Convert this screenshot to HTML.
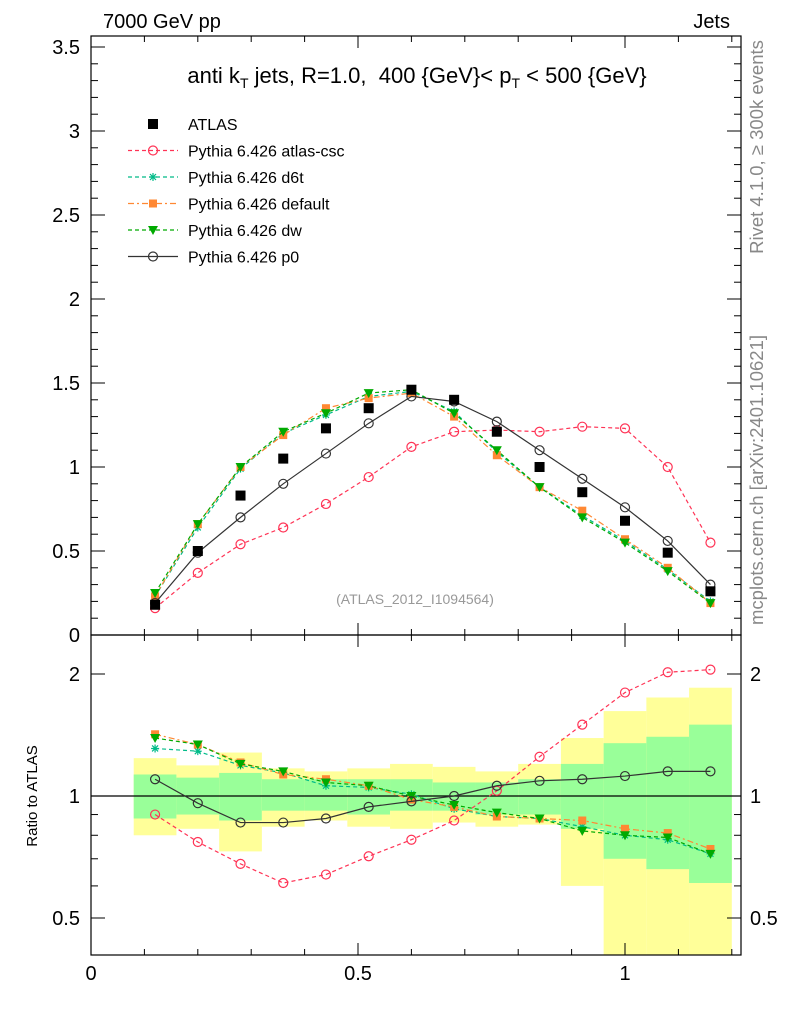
<!DOCTYPE html>
<html><head><meta charset="utf-8"><style>
body{margin:0;background:#fff;}
svg{display:block;font-family:"Liberation Sans",sans-serif;}
</style></head><body>
<svg id="chart" width="786" height="1024" viewBox="0 0 786 1024" xmlns="http://www.w3.org/2000/svg">
<text x="103" y="28" font-size="20">7000 GeV pp</text>
<text x="730" y="28" font-size="20" text-anchor="end">Jets</text>
<text transform="translate(763,147) rotate(-90)" font-size="18.5" fill="#888" text-anchor="middle">Rivet 4.1.0, ≥ 300k events</text>
<text transform="translate(763,480) rotate(-90)" font-size="18.5" fill="#888" text-anchor="middle">mcplots.cern.ch [arXiv:2401.10621]</text>
<text x="417" y="83" font-size="22" text-anchor="middle" xml:space="preserve">anti k<tspan font-size="14" dy="5">T</tspan><tspan dy="-5"> jets, R=1.0,  400 {GeV}&lt; p</tspan><tspan font-size="14" dy="5">T</tspan><tspan dy="-5"> &lt; 500 {GeV}</tspan></text>
<text x="415" y="604" font-size="14" fill="#999" text-anchor="middle">(ATLAS_2012_I1094564)</text>
<text transform="translate(37,796) rotate(-90)" font-size="15" text-anchor="middle">Ratio to ATLAS</text>
<g id="bands"></g>
<g id="axes"></g>
<g id="series"></g>
<g id="legend"></g>
</svg>
<script>
const xCenters=[0.12,0.2,0.28,0.36,0.44,0.52,0.6,0.68,0.76,0.84,0.92,1.0,1.08,1.16];
const binHalf=0.04;
const atlasVals=[0.18,0.5,0.83,1.05,1.23,1.35,1.46,1.40,1.21,1.0,0.85,0.68,0.49,0.26];
const cscVals=[0.16,0.37,0.54,0.64,0.78,0.94,1.12,1.21,1.22,1.21,1.24,1.23,1.0,0.55];
const d6tVals=[0.23,0.64,0.99,1.2,1.31,1.42,1.45,1.33,1.09,0.88,0.71,0.56,0.39,0.2];
const defVals=[0.23,0.66,1.0,1.19,1.35,1.41,1.44,1.30,1.07,0.88,0.74,0.57,0.40,0.19];
const dwVals=[0.25,0.66,1.0,1.21,1.32,1.44,1.46,1.32,1.10,0.88,0.70,0.55,0.38,0.19];
const p0Vals=[0.19,0.49,0.70,0.90,1.08,1.26,1.42,1.39,1.27,1.10,0.93,0.76,0.56,0.30];
const cscRatio=[0.90,0.77,0.68,0.61,0.64,0.71,0.78,0.87,1.03,1.25,1.50,1.80,2.02,2.05];
const d6tRatio=[1.31,1.29,1.19,1.14,1.06,1.05,1.01,0.93,0.89,0.88,0.84,0.80,0.78,0.72];
const defRatio=[1.42,1.34,1.21,1.13,1.10,1.06,0.98,0.94,0.89,0.88,0.87,0.83,0.81,0.74];
const dwRatio=[1.39,1.34,1.20,1.15,1.08,1.06,1.0,0.95,0.91,0.88,0.82,0.80,0.79,0.72];
const p0Ratio=[1.10,0.96,0.86,0.86,0.88,0.94,0.97,1.0,1.06,1.09,1.10,1.12,1.15,1.15];
const yellowHi=[1.24,1.19,1.28,1.17,1.15,1.17,1.2,1.18,1.15,1.2,1.39,1.62,1.75,1.85];
const yellowLo=[0.80,0.83,0.73,0.84,0.87,0.84,0.83,0.86,0.84,0.85,0.60,0.35,0.35,0.35];
const greenHi=[1.13,1.11,1.14,1.1,1.1,1.1,1.1,1.08,1.08,1.1,1.2,1.35,1.4,1.5];
const greenLo=[0.88,0.9,0.87,0.92,0.92,0.9,0.92,0.92,0.9,0.9,0.83,0.7,0.66,0.61];
const xTicks=[0,0.5,1];
const yTicks=[0,0.5,1,1.5,2,2.5,3,3.5];
const rTicks=[0.5,1,2];

const NS="http://www.w3.org/2000/svg";
const L=91,R=741,T=36,MB=635,RB=955;
const X=v=>L+v*534;
const Y=v=>MB-v*168;
const YR=v=>Math.max(MB,Math.min(RB,796-122*Math.log2(v)));
function mk(tag,attrs,parent){const e=document.createElementNS(NS,tag);for(const k in attrs)e.setAttribute(k,attrs[k]);parent.appendChild(e);return e;}
const bands=document.getElementById('bands'),axes=document.getElementById('axes'),series=document.getElementById('series'),legend=document.getElementById('legend');

xCenters.forEach((c,i)=>{
 const y1=YR(yellowHi[i]),y2=YR(yellowLo[i]);
 const r=mk('rect',{x:X(c-binHalf),y:y1,width:X(c+binHalf)-X(c-binHalf),height:y2-y1,fill:'#ffff99'},bands);
 
 
 const g1=YR(greenHi[i]),g2=YR(greenLo[i]);
 const g=mk('rect',{x:X(c-binHalf),y:g1,width:X(c+binHalf)-X(c-binHalf),height:g2-g1,fill:'#99ff99'},bands);
 
 
});
mk('line',{x1:L,x2:R,y1:796,y2:796,stroke:'#000','stroke-width':1.2},bands);

const f1=mk('rect',{x:L,y:T,width:R-L,height:MB-T,fill:'none',stroke:'#000','stroke-width':1.2},axes);


const f2=mk('rect',{x:L,y:MB,width:R-L,height:RB-MB,fill:'none',stroke:'#000','stroke-width':1.2},axes);


for(let v=0;v<=1.2001;v+=0.1){const major=Math.abs(v*2-Math.round(v*2))<1e-6;const len=major?12:6;
 [MB,RB].forEach(b=>{mk('line',{x1:X(v),x2:X(v),y1:b,y2:b-len,stroke:'#000'},axes);});
 [T,MB].forEach(t=>{mk('line',{x1:X(v),x2:X(v),y1:t,y2:t+len,stroke:'#000'},axes);});
}
xTicks.forEach(v=>{const t=mk('text',{x:X(v),y:980,'font-size':20,'text-anchor':'middle'},axes);t.textContent=String(v);
 
 });
for(let v=0;v<=3.5001;v+=0.1){const major=Math.abs(v*2-Math.round(v*2))<1e-6;const len=major?14:7;
 mk('line',{x1:L,x2:L+len,y1:Y(v),y2:Y(v),stroke:'#000'},axes);
 mk('line',{x1:R,x2:R-len,y1:Y(v),y2:Y(v),stroke:'#000'},axes);}
yTicks.forEach(v=>{const t=mk('text',{x:80,y:Y(v)+7,'font-size':20,'text-anchor':'end'},axes);t.textContent=String(v);
 
 });
[0.5,0.6,0.7,0.8,0.9,1,2].forEach(v=>{const major=rTicks.includes(v);const len=major?14:7;
 mk('line',{x1:L,x2:L+len,y1:YR(v),y2:YR(v),stroke:'#000'},axes);
 mk('line',{x1:R,x2:R-len,y1:YR(v),y2:YR(v),stroke:'#000'},axes);});
rTicks.forEach(v=>{[[80,'end'],[750,'start']].forEach(([x,a])=>{const t=mk('text',{x:x,y:YR(v)+7,'font-size':20,'text-anchor':a},axes);t.textContent=String(v);
 
 });});

function marker(kind,x,y,color,parent){
 if(kind==='sq')return mk('rect',{x:x-5,y:y-5,width:10,height:10,fill:color},parent);
 if(kind==='sqs')return mk('rect',{x:x-4,y:y-4,width:8,height:8,fill:color},parent);
 if(kind==='circ')return mk('circle',{cx:x,cy:y,r:4.5,fill:'none',stroke:color,'stroke-width':1.2},parent);
 if(kind==='tri')return mk('path',{d:`M${x-5},${y-4}L${x+5},${y-4}L${x},${y+5}Z`,fill:color},parent);
 if(kind==='star')return mk('path',{d:`M${x-4},${y}H${x+4}M${x},${y-4}V${y+4}M${x-3},${y-3}L${x+3},${y+3}M${x-3},${y+3}L${x+3},${y-3}`,stroke:color,'stroke-width':1.2},parent);
}
const defs=[
 {name:'Pythia 6.426 atlas-csc',key:'csc',main:cscVals,ratio:cscRatio,color:'#ff3355',dash:'4,3',m:'circ'},
 {name:'Pythia 6.426 d6t',key:'d6t',main:d6tVals,ratio:d6tRatio,color:'#00bb88',dash:'4,3',m:'star'},
 {name:'Pythia 6.426 default',key:'default',main:defVals,ratio:defRatio,color:'#ff8833',dash:'6,3,2,3',m:'sqs'},
 {name:'Pythia 6.426 dw',key:'dw',main:dwVals,ratio:dwRatio,color:'#00aa00',dash:'4,3',m:'tri'},
 {name:'Pythia 6.426 p0',key:'p0',main:p0Vals,ratio:p0Ratio,color:'#333333',dash:'',m:'circ'}
];
defs.forEach(s=>{
 [[s.main,Y,'main'],[s.ratio,YR,'ratio']].forEach(([vals,fy,panel])=>{
  const pts=vals.map((v,i)=>X(xCenters[i])+','+fy(v)).join(' ');
  const pl=mk('polyline',{points:pts,fill:'none',stroke:s.color,'stroke-width':1.2,'stroke-dasharray':s.dash},series);
  
  
  vals.forEach((v,i)=>{const m=marker(s.m,X(xCenters[i]),fy(v),s.color,series);
   
   });
 });
});
atlasVals.forEach((v,i)=>{const m=marker('sq',X(xCenters[i]),Y(v),'#000',series);
 
 });

const lg=[{name:'ATLAS',m:'sq',color:'#000',dash:null}].concat(defs);
lg.forEach((s,i)=>{const y=124+i*26.5;
 const g=mk('g',{},legend);
 
 
 if(s.dash!==null)mk('line',{x1:128,x2:178,y1:y,y2:y,stroke:s.color,'stroke-width':1.2,'stroke-dasharray':s.dash},g);
 marker(s.m,153,y,s.color,g);
 const t=mk('text',{x:188,y:y+6,'font-size':16},g);t.textContent=s.name;});
</script>
</body></html>
